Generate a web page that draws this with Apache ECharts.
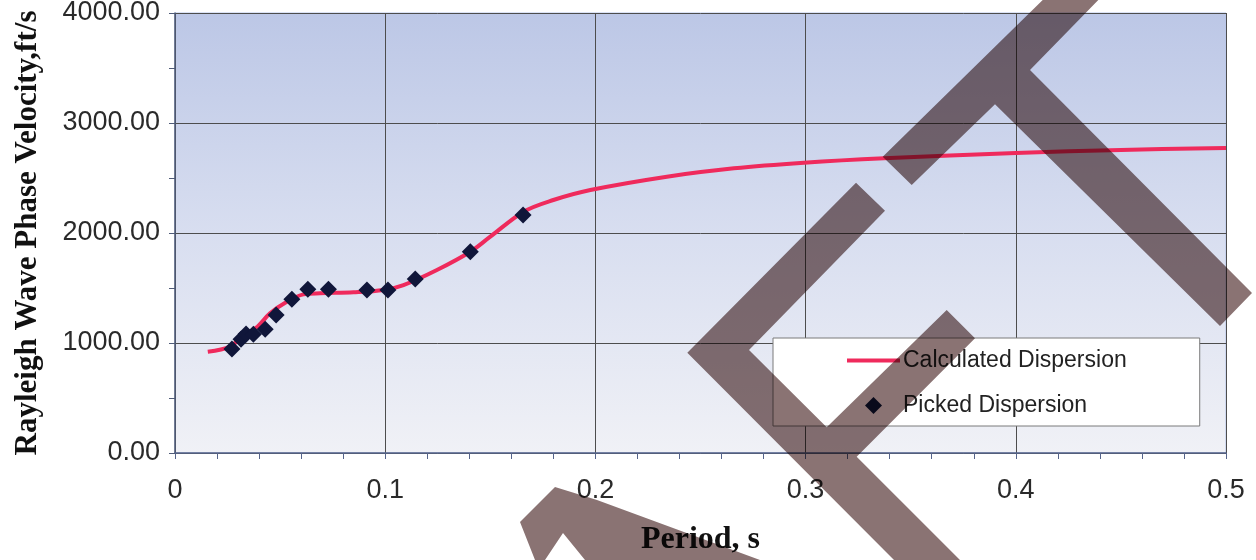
<!DOCTYPE html>
<html>
<head>
<meta charset="utf-8">
<script src="https://cdn.jsdelivr.net/npm/echarts@6/dist/echarts.min.js"></script>
<style>
    html, body { margin: 0; padding: 0; background: #fff; }
    #chart { width: 1256px; height: 560px; }
</style>
</head>
<body>
<div id="chart"></div>
<script>
// picked dispersion points (period s, velocity ft/s)
var pickedPeriod = [0.0271, 0.0314, 0.0338, 0.0373, 0.0429, 0.0481, 0.0556, 0.0632, 0.0730, 0.0913, 0.1013, 0.1143, 0.1405, 0.1656];
var pickedVelocity = [945, 1034, 1082, 1079, 1124, 1255, 1397, 1488, 1488, 1482, 1482, 1582, 1830, 2164];

// calculated dispersion curve
var calcPeriod = [0.0156, 0.0262, 0.0317, 0.0392, 0.0452, 0.0532, 0.0611, 0.069, 0.0849, 0.0992, 0.1087, 0.1246, 0.1405, 0.150, 0.1659, 0.180, 0.1976, 0.234, 0.2659, 0.2992, 0.3373, 0.4, 0.45, 0.5];
var calcVelocity = [921, 967, 1058, 1148, 1270, 1376, 1442, 1452, 1461, 1482, 1527, 1664, 1830, 1967, 2194, 2300, 2391, 2512, 2588, 2639, 2679, 2727, 2755, 2773];

var seriesNames = ['Calculated Dispersion', 'Picked Dispersion'];
var xTitle = 'Period, s';
var yTitle = 'Rayleigh Wave Phase Velocity,ft/s';

function zip(xs, ys) {
    return xs.map(function (x, i) {
        return [x, ys[i]];
    });
}

// watermark bands, multiplied over the finished chart
var stampColor = '#8a7373';
var stamps = [
    [[882.7, 156.7], [1042.7, 0], [1098.3, 0], [1030, 70], [1252, 293], [1220, 326], [995, 104.3], [911.7, 185]],
    [[856, 182.7], [885, 210.7], [749, 350], [826.7, 427.3], [946.7, 310], [975, 338.3], [856.7, 456.7], [960, 560], [894, 560], [687.3, 352.7]],
    [[555, 487], [597, 500], [760, 560], [585, 560], [563, 533], [545, 560], [535, 560], [520, 522]]
];

var chart = echarts.init(document.getElementById('chart'));
var option = {
    animation: false,
    textStyle: {
        fontFamily: 'Liberation Sans, Arial, sans-serif'
    },
    grid: {
        left: 175,
        right: 30,
        top: 13,
        bottom: 107,
        outerBoundsMode: 'none',
        containLabel: false,
        show: true,
        borderWidth: 1,
        borderColor: '#b4c4ea',
        backgroundColor: {
            type: 'linear', x: 0, y: 0, x2: 0, y2: 1,
            colorStops: [
                {offset: 0, color: '#bcc7e6'},
                {offset: 0.5, color: '#d8def0'},
                {offset: 1, color: '#f0f1f6'}
            ]
        }
    },
    legend: {
        orient: 'vertical',
        left: 773,
        top: 338,
        backgroundColor: '#ffffff',
        borderColor: '#7a7a7a',
        borderWidth: 1,
        padding: [11, 73, 9, 74],
        itemWidth: 53,
        itemHeight: 17,
        itemGap: 22,
        symbolKeepAspect: true,
        textStyle: {
            fontSize: 23,
            color: '#222',
            padding: [0, 0, 0, -2]
        },
        data: [
            {name: seriesNames[0], icon: 'path://M0,0 L53,0 L53,4 L0,4 Z', itemStyle: {color: '#ef2a5c', opacity: 1}},
            {name: seriesNames[1], icon: 'path://M7,0 L14,7 L7,14 L0,7 Z', itemStyle: {color: '#10163a', opacity: 1}}
        ]
    },
    xAxis: {
        type: 'value',
        min: 0,
        max: 0.5,
        interval: 0.1,
        name: xTitle,
        nameLocation: 'middle',
        nameGap: 71,
        nameTextStyle: {
            fontFamily: 'Liberation Serif, Times New Roman, serif',
            fontWeight: 'bold',
            fontSize: 32,
            color: '#111'
        },
        axisLine: {lineStyle: {color: '#56648a', width: 1.5}},
        axisTick: {show: true, length: 6, lineStyle: {color: '#56648a'}},
        minorTick: {show: true, splitNumber: 5, length: 6, lineStyle: {color: '#56648a'}},
        axisLabel: {
            fontSize: 27,
            color: '#2a2a2a',
            margin: 24,
            formatter: function (v) {
                return v === 0 ? '0' : String(+v.toFixed(1));
            }
        },
        splitLine: {show: true, lineStyle: {color: '#4d4d4d', width: 1}}
    },
    yAxis: {
        type: 'value',
        min: 0,
        max: 4000,
        interval: 1000,
        name: yTitle,
        nameLocation: 'middle',
        nameGap: 132,
        nameTextStyle: {
            fontFamily: 'Liberation Serif, Times New Roman, serif',
            fontWeight: 'bold',
            fontSize: 31,
            color: '#111'
        },
        axisLine: {show: true, lineStyle: {color: '#4f5b78', width: 1.5}},
        axisTick: {show: true, length: 6, lineStyle: {color: '#4f5b78'}},
        minorTick: {show: true, splitNumber: 2, length: 6, lineStyle: {color: '#4f5b78'}},
        axisLabel: {
            fontSize: 27,
            color: '#2a2a2a',
            margin: 15,
            formatter: function (v) {
                return v.toFixed(2);
            }
        },
        splitLine: {show: true, lineStyle: {color: '#4d4d4d', width: 1}}
    },
    series: [{
        name: seriesNames[0],
        type: 'line',
        data: zip(calcPeriod, calcVelocity),
        smooth: 0.35,
        symbol: 'none',
        lineStyle: {color: '#ef2a5c', width: 4},
        itemStyle: {color: '#ef2a5c'},
        z: 3
    }, {
        name: seriesNames[1],
        type: 'scatter',
        data: zip(pickedPeriod, pickedVelocity),
        symbol: 'diamond',
        symbolSize: 17,
        itemStyle: {color: '#10163a', opacity: 1},
        z: 4
    }],
    graphic: stamps.map(function (pts) {
        return {
            type: 'polygon',
            z: 100,
            silent: true,
            shape: {points: pts},
            style: {fill: stampColor, blend: 'multiply'}
        };
    })
};
chart.setOption(option);
</script>
</body>
</html>
